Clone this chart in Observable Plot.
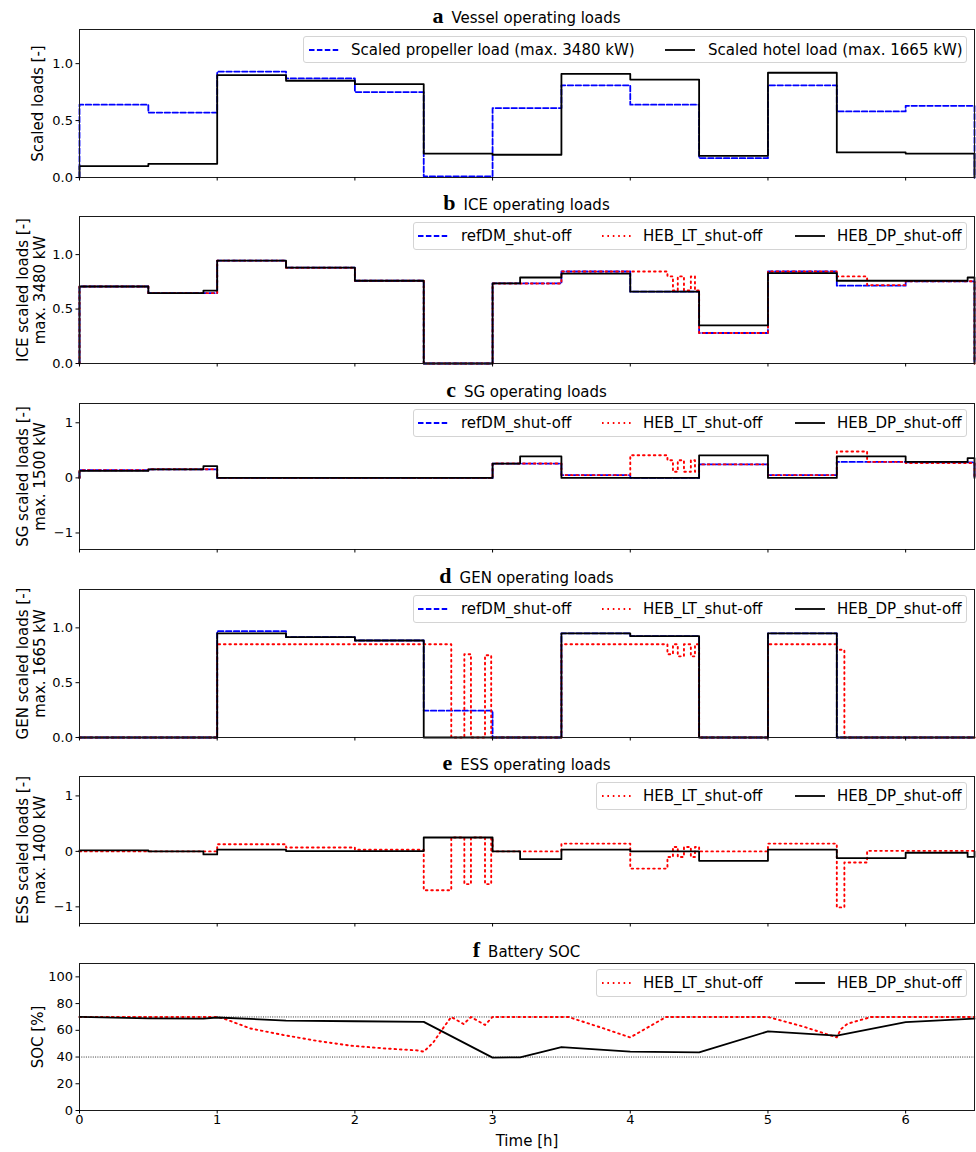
<!DOCTYPE html>
<html><head><meta charset="utf-8">
<script src="https://cdn.jsdelivr.net/npm/d3@7"></script>
<script src="https://cdn.jsdelivr.net/npm/@observablehq/plot@0.6"></script>
<style>
body{margin:0;background:#fff;}
#root{position:relative;width:976px;height:1152px;font-family:"DejaVu Sans",sans-serif;color:#000;overflow:hidden;}
.title{position:absolute;left:79px;width:895px;text-align:center;font-size:15px;line-height:22px;white-space:nowrap;}
.title b{font-family:"Liberation Serif",serif;font-size:22px;font-weight:bold;margin-right:8px;}
.legend{position:absolute;border:1px solid #d4d4d4;border-radius:3px;background:rgba(255,255,255,0.85);box-sizing:border-box;}
.legend svg{position:absolute;}
.legend span{position:absolute;font-size:15px;line-height:18px;white-space:nowrap;}
</style></head><body><div id="root"></div>
<script>
// ---------------- data ----------------
const tHalf = [0,0.5,1,1.5,2,2.5,3,3.5,4,4.5,5,5.5,6];

// a  Vessel operating loads
const propellerLoad = [0.64,0.57,0.93,0.87,0.75,0.01,0.61,0.81,0.64,0.17,0.81,0.58,0.63];
const hotelLoad     = [0.10,0.12,0.90,0.85,0.82,0.21,0.20,0.91,0.86,0.19,0.92,0.22,0.21];

// b  ICE operating loads
const iceRefVal = [0.707,0.646,0.945,0.88,0.76,0,0.735,0.845,0.66,0.28,0.845,0.715,0.755];
const iceLtTime = [0,0.5,1,1.5,2,2.5,3,3.5,4.27,4.31,4.345,4.39,4.44,4.47,4.5,5,5.5,5.72,6];
const iceLtVal  = [0.707,0.646,0.945,0.88,0.76,0,0.735,0.845,0.80,0.67,0.80,0.67,0.80,0.67,0.28,0.845,0.80,0.72,0.755];
const iceDpTime = [0,0.5,0.9,1,1.5,2,2.5,3,3.2,3.5,4,4.5,5,5.5,6.45];
const iceDpVal  = [0.707,0.646,0.67,0.945,0.88,0.76,0,0.735,0.79,0.825,0.66,0.35,0.83,0.76,0.79];

// c  SG operating loads
const sgRefVal = [0.138,0.156,0,0,0,0,0.26,0.05,0,0.245,0.05,0.29,0.28];
const sgLtTime = [0,0.5,1,3,3.5,4,4.27,4.31,4.345,4.39,4.44,4.47,4.5,5,5.5,5.72,6];
const sgLtVal  = [0.138,0.156,0,0.26,0.05,0.41,0.32,0.11,0.32,0.11,0.32,0.11,0.245,0.05,0.48,0.29,0.27];
const sgDpTime = [0,0.5,0.9,1,3,3.2,3.5,4.5,5,5.5,6,6.45];
const sgDpVal  = [0.126,0.156,0.215,0,0.26,0.39,0,0.41,0,0.39,0.29,0.36];

// d  GEN operating loads
const genRefTime = [0,1,1.5,2,2.5,3,3.5,4,4.5,5,5.5];
const genRefVal  = [0,0.97,0.915,0.885,0.245,0,0.95,0.925,0,0.95,0];
const genLtTime  = [0,1,2.7,2.795,2.843,2.945,2.99,3.5,4.27,4.31,4.345,4.39,4.44,4.47,4.5,5,5.5,5.555];
const genLtVal   = [0,0.85,0,0.76,0,0.75,0,0.85,0.76,0.85,0.74,0.85,0.74,0.85,0,0.85,0.80,0];
const genDpTime  = [0,1,1.5,2,2.5,3.5,4,4.5,5,5.5];
const genDpVal   = [0,0.95,0.915,0.885,0,0.95,0.925,0,0.95,0];

// e  ESS operating loads
const essLtTime = [0,1,1.5,2,2.5,2.7,2.795,2.843,2.945,2.99,3,3.5,4,4.27,4.31,4.345,4.39,4.44,4.47,4.5,5,5.5,5.555,5.72,6];
const essLtVal  = [0,0.13,0.07,0.03,-0.70,0.25,-0.59,0.25,-0.59,0.25,0,0.14,-0.31,-0.10,0.08,-0.10,0.08,-0.10,0.08,0,0.14,-1.01,-0.2,0.01,0.01];
const essDpTime = [0,0.5,0.9,1,1.5,2.5,3,3.2,3.5,4,4.5,5,5.5,6,6.45];
const essDpVal  = [0.02,0,-0.055,0.03,0.005,0.25,0,-0.14,0.03,0,-0.17,0.03,-0.12,-0.025,-0.1];

// f  Battery SOC
const socLtTime = [0,1,1.07,1.24,1.48,1.73,1.97,2.21,2.45,2.5,2.57,2.65,2.7,2.79,2.843,2.945,3,3.55,3.76,4,4.26,5,5.25,5.5,5.53,5.58,5.75,6.5];
const socLtVal  = [70,70,68,61.4,56.5,52,48.5,46.5,45,44,51,63,70,64.7,70,64,70,70,63,54.7,70,70,63,54.7,61,65,70,70];
const socDpTime = [0,0.5,0.9,1,1.5,2,2.5,3,3.2,3.5,4,4.5,5,5.5,6,6.5];
const socDpVal  = [70,69,68.7,69.6,67.3,66.8,66.3,39.6,39.8,47.5,44,43.5,59.2,56,66.2,68.7];
const socLimits = [40,70];

// labels
const vesselNames = ["Scaled propeller load (max. 3480 kW)","Scaled hotel load (max. 1665 kW)"];
const caseNames = ["refDM_shut-off","HEB_LT_shut-off","HEB_DP_shut-off"];
const panelLetters = ["a","b","c","d","e","f"];
const panelTitles = ["Vessel operating loads","ICE operating loads","SG operating loads","GEN operating loads","ESS operating loads","Battery SOC"];
const yLabels = ["Scaled loads [-]","ICE scaled loads [-]\nmax. 3480 kW","SG scaled loads [-]\nmax. 1500 kW","GEN scaled loads [-]\nmax. 1665 kW","ESS scaled loads [-]\nmax. 1400 kW","SOC [%]"];
const xTicks = [0,1,2,3,4,5,6];
const xLabel = "Time [h]";

// ---------------- drawing ----------------
const root = document.getElementById("root");
const STY = {
  blue:  {stroke: "#0000ff", strokeWidth: 1.8, strokeDasharray: "5.5,2.4"},
  red:   {stroke: "#ff0000", strokeWidth: 1.9, strokeDasharray: "1.6,3.8"},
  black: {stroke: "#000000", strokeWidth: 1.8}
};
function stepSeries(times, values) {
  const pts = [{t: 0, v: 0}];
  times.forEach((t, i) => pts.push({t, v: values[i]}));
  pts.push({t: 6.5, v: values[values.length - 1]});
  pts.push({t: 6.5, v: 0});
  return pts;
}
function lineSeries(times, values) { return times.map((t, i) => ({t, v: values[i]})); }
const f1 = d3.format(".1f");
const fInt = d => d < 0 ? "\u2212" + Math.abs(d) : String(d);

function drawPanel(cfg, i) {
  const mt = 8, mb = cfg.mb ?? 9;
  const marks = [];
  if (cfg.refLines) marks.push(Plot.ruleY(cfg.refLines, {stroke: "#000", strokeWidth: 0.8, strokeDasharray: "1,1.3"}));
  for (const s of cfg.series) marks.push(Plot.line(s.data, {x: "t", y: "v", curve: cfg.curve, ...STY[s.style]}));
  marks.push(Plot.frame({stroke: "#1a1a1a", strokeWidth: 1}));
  marks.push(Plot.axisY({ticks: cfg.yTicks, tickFormat: cfg.fmt, tickSize: 3.5, tickPadding: 3, label: null, fontSize: 13}));
  marks.push(Plot.axisX({ticks: xTicks, tickSize: 3.5, tickPadding: 1, tickFormat: cfg.xLabels ? d => String(d) : () => "", label: null, fontSize: 13}));
  const lab = yLabels[i];
  marks.push(Plot.text([lab], {text: d => d, frameAnchor: "left", dx: lab.includes("\n") ? -48 : -41.5, rotate: -90, fontSize: 15, lineHeight: 1.12, textAnchor: "middle", lineAnchor: "middle"}));
  if (cfg.xLabels) marks.push(Plot.text([xLabel], {text: d => d, frameAnchor: "bottom", dy: 31, fontSize: 15, lineAnchor: "middle"}));
  const chart = Plot.plot({
    width: 976, height: (cfg.B - cfg.T) + mt + mb,
    marginLeft: 79, marginRight: 2, marginTop: mt, marginBottom: mb,
    style: {fontFamily: "DejaVu Sans, sans-serif", fontSize: "13px", color: "#000", background: "transparent", overflow: "visible"},
    x: {domain: [0, 6.5]},
    y: {domain: cfg.yDomain},
    marks
  });
  chart.style.position = "absolute";
  chart.style.left = "0px";
  chart.style.top = (cfg.T - mt) + "px";
  root.appendChild(chart);

  const title = document.createElement("div");
  title.className = "title";
  title.style.top = (cfg.T - 13 - 11) + "px";
  const b = document.createElement("b"); b.textContent = panelLetters[i];
  title.appendChild(b);
  title.appendChild(document.createTextNode(panelTitles[i]));
  root.appendChild(title);

  const lg = cfg.legend;
  const box = document.createElement("div");
  box.className = "legend";
  const top = lg.top ?? cfg.T + 6, h = lg.h ?? 28;
  Object.assign(box.style, {left: lg.left + "px", top: top + "px", width: lg.w + "px", height: h + "px"});
  for (const it of lg.items) {
    const sw = d3.create("svg").attr("width", 30).attr("height", 8)
      .style("left", (it.sx - lg.left - 1) + "px").style("top", (h / 2 - 5) + "px");
    const st = STY[it.style];
    sw.append("line").attr("x1", 0).attr("x2", 30).attr("y1", 4).attr("y2", 4)
      .attr("stroke", st.stroke).attr("stroke-width", st.strokeWidth).attr("stroke-dasharray", st.strokeDasharray || null);
    box.appendChild(sw.node());
    const sp = document.createElement("span");
    sp.textContent = it.label;
    sp.style.left = (it.tx - lg.left - 1) + "px";
    sp.style.top = (h / 2 - 10) + "px";
    box.appendChild(sp);
  }
  root.appendChild(box);
}

const leg3 = {left: 413, w: 554, items: [
  {style: "blue", label: caseNames[0], sx: 418, tx: 461},
  {style: "red", label: caseNames[1], sx: 602, tx: 643},
  {style: "black", label: caseNames[2], sx: 795, tx: 837}]};
const leg2 = {left: 596, w: 371, items: [
  {style: "red", label: caseNames[1], sx: 602, tx: 643},
  {style: "black", label: caseNames[2], sx: 795, tx: 837}]};

const panels = [
  {T: 29, B: 177, yDomain: [0, 1.3], yTicks: [0, 0.5, 1], fmt: f1, curve: "step-after",
   series: [{style: "blue", data: stepSeries(tHalf, propellerLoad)}, {style: "black", data: stepSeries(tHalf, hotelLoad)}],
   legend: {left: 303, top: 36, w: 664, h: 27, items: [
     {style: "blue", label: vesselNames[0], sx: 309, tx: 351},
     {style: "black", label: vesselNames[1], sx: 665, tx: 708}]}},
  {T: 216, B: 363, yDomain: [0, 1.35], yTicks: [0, 0.5, 1], fmt: f1, curve: "step-after",
   series: [{style: "blue", data: stepSeries(tHalf, iceRefVal)}, {style: "red", data: stepSeries(iceLtTime, iceLtVal)}, {style: "black", data: stepSeries(iceDpTime, iceDpVal)}],
   legend: leg3},
  {T: 403, B: 549, yDomain: [-1.3, 1.35], yTicks: [-1, 0, 1], fmt: fInt, curve: "step-after",
   series: [{style: "blue", data: stepSeries(tHalf, sgRefVal)}, {style: "red", data: stepSeries(sgLtTime, sgLtVal)}, {style: "black", data: stepSeries(sgDpTime, sgDpVal)}],
   legend: leg3},
  {T: 589, B: 737, yDomain: [0, 1.35], yTicks: [0, 0.5, 1], fmt: f1, curve: "step-after",
   series: [{style: "blue", data: stepSeries(genRefTime, genRefVal)}, {style: "red", data: stepSeries(genLtTime, genLtVal)}, {style: "black", data: stepSeries(genDpTime, genDpVal)}],
   legend: leg3},
  {T: 776, B: 923, yDomain: [-1.3, 1.35], yTicks: [-1, 0, 1], fmt: fInt, curve: "step-after",
   series: [{style: "red", data: stepSeries(essLtTime, essLtVal)}, {style: "black", data: stepSeries(essDpTime, essDpVal)}],
   legend: leg2},
  {T: 963, B: 1110, yDomain: [0, 110], yTicks: [0, 20, 40, 60, 80, 100], fmt: fInt, curve: "linear", mb: 42, xLabels: true, refLines: socLimits,
   series: [{style: "red", data: lineSeries(socLtTime, socLtVal)}, {style: "black", data: lineSeries(socDpTime, socDpVal)}],
   legend: leg2}
];
panels.forEach(drawPanel);
</script>
</body></html>
